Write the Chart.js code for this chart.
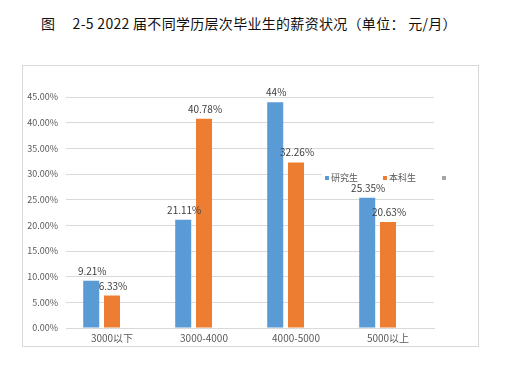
<!DOCTYPE html>
<html>
<head>
<meta charset="utf-8">
<script src="https://cdn.jsdelivr.net/npm/chart.js"></script>
<style>
  body { margin: 0; background: #fff; width: 508px; height: 365px; position: relative; overflow: hidden; }
  #title { position: absolute; left: 0; width: 498px; top: 13px; text-align: center; font: 14px "Noto Sans CJK SC"; letter-spacing: 0.3px; color: #111; white-space: pre; }
  #box { position: absolute; left: 22px; top: 65px; width: 455px; height: 280px; border: 1px solid #d9d9d9; }
</style>
</head>
<body>
<div id="title">图     2-5 2022 届不同学历层次毕业生的薪资状况（单位： 元/月）</div>
<div id="box"><canvas id="salaryChart" width="455" height="280"></canvas></div>
<script>
  // data
  const categories = ['3000以下', '3000-4000', '4000-5000', '5000以上'];
  const graduate = [9.21, 21.11, 44, 25.35];      // 研究生
  const undergrad = [6.33, 40.78, 32.26, 20.63];  // 本科生
  const emptySeries = [null, null, null, null];   // third (unnamed) series in the legend
  const yTickLabels = ['0.00%', '5.00%', '10.00%', '15.00%', '20.00%', '25.00%', '30.00%', '35.00%', '40.00%', '45.00%'];

  const FONT = '"Noto Sans CJK SC", sans-serif';

  // labels on top of each bar
  const barLabels = {
    id: 'barLabels',
    afterDatasetsDraw(chart) {
      const ctx = chart.ctx;
      ctx.save();
      ctx.font = '10px ' + FONT;
      ctx.fillStyle = '#404040';
      ctx.textAlign = 'center';
      ctx.textBaseline = 'alphabetic';
      chart.data.datasets.forEach((ds, di) => {
        chart.getDatasetMeta(di).data.forEach((bar, i) => {
          const v = ds.data[i];
          if (v === null || v === undefined) return;
          ctx.fillText(v + '%', bar.x + 1, bar.y - 6);
        });
      });
      ctx.restore();
    }
  };

  // legend drawn inside the plot, like the excel one
  const innerLegend = {
    id: 'innerLegend',
    afterDraw(chart) {
      const ctx = chart.ctx;
      const y = 112;
      const xs = [302, 360, 419];
      ctx.save();
      ctx.fillStyle = '#fff';
      ctx.fillRect(299, y - 6, 126, 12);
      ctx.font = '9px ' + FONT;
      ctx.textBaseline = 'middle';
      chart.data.datasets.forEach((ds, i) => {
        ctx.fillStyle = ds.backgroundColor;
        ctx.fillRect(xs[i], y - 2, 4, 4);
        if (ds.label) {
          ctx.fillStyle = '#595959';
          ctx.fillText(ds.label, xs[i] + 6, y);
        }
      });
      ctx.restore();
    }
  };

  const ctx = document.getElementById('salaryChart').getContext('2d');
  new Chart(ctx, {
    type: 'bar',
    data: {
      labels: categories,
      datasets: [
        { label: '研究生', data: graduate, backgroundColor: '#5b9bd5' },
        { label: '本科生', data: undergrad, backgroundColor: '#ed7d31' },
        { label: '', data: emptySeries, backgroundColor: '#a5a5a5' }
      ]
    },
    options: {
      responsive: false,
      animation: false,
      layout: { padding: { top: 31, right: 44, left: 0, bottom: 0 } },
      datasets: { bar: { categoryPercentage: 0.678, barPercentage: 0.77 } },
      scales: {
        x: {
          grid: { display: false, drawTicks: false },
          border: { color: '#d9d9d9' },
          ticks: { padding: 4, color: '#595959', font: { size: 10, family: FONT } },
          afterFit(s) { s.height = 18; }
        },
        y: {
          min: 0,
          max: 45,
          ticks: {
            stepSize: 5,
            padding: 8,
            color: '#595959',
            font: { size: 9, family: FONT },
            callback: (v, i) => yTickLabels[i]
          },
          grid: { color: '#d9d9d9', drawTicks: false },
          border: { display: false },
          afterFit(s) { s.width = 43; }
        }
      },
      plugins: {
        legend: { display: false },
        tooltip: { enabled: false }
      }
    },
    plugins: [barLabels, innerLegend]
  });
</script>
</body>
</html>
